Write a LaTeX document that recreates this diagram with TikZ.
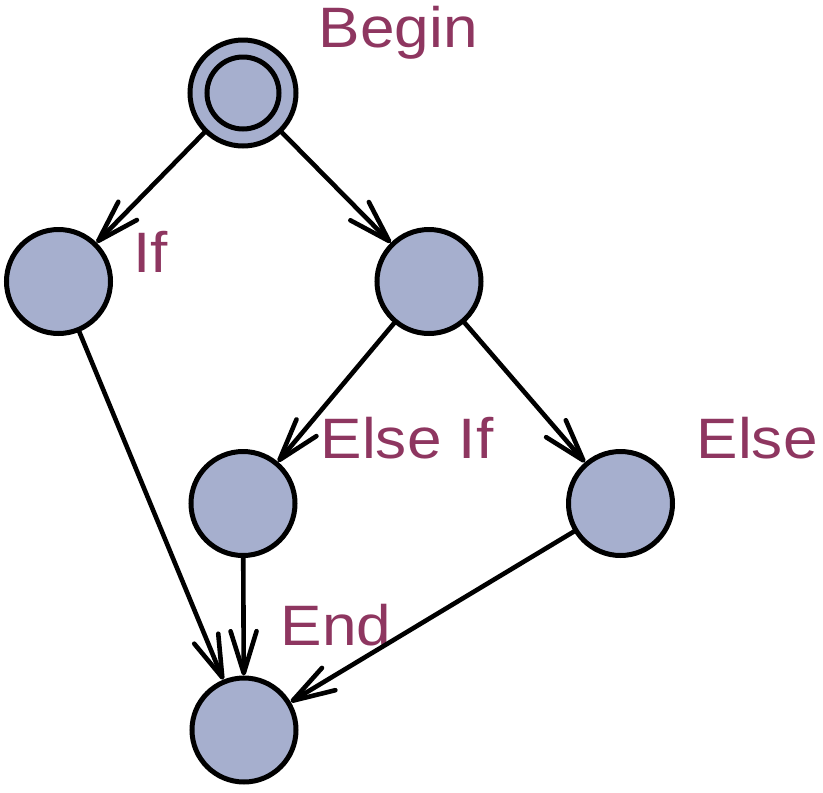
\documentclass[tikz,border=0pt]{standalone}
\usepackage{fontspec}
\usepackage{graphicx}
\setmainfont{Liberation Sans}
\usetikzlibrary{arrows.meta}
\definecolor{nodefill}{RGB}{166,175,206}
\definecolor{labelcol}{RGB}{142,54,96}
\newcommand{\widetext}[1]{\scalebox{1.09}[1]{#1}}
\begin{document}
\begin{tikzpicture}[x=1pt,y=-1pt,
  state/.style={circle,draw=black,line width=5pt,fill=nodefill,minimum size=104pt,inner sep=0pt},
  innerring/.style={circle,draw=black,line width=5pt,minimum size=72pt,inner sep=0pt},
  lbl/.style={text=labelcol,font=\fontsize{57}{60}\selectfont,anchor=base west,inner sep=0pt},
  arr/.style={line width=4.6pt,line cap=round,-{Straight Barb[length=42pt,width=26pt,round]}}]
\useasboundingbox (0,0) rectangle (823,793);
\node[state,minimum size=106pt] (begin) at (243,93) {};
\node[innerring] (begininner) at (243,93) {};
\node[state] (if) at (58.5,281.5) {};
\node[state] (thenn) at (429,281.5) {};
\node[state] (elseif) at (243,503.5) {};
\node[state] (else) at (620.5,503.5) {};
\node[state] (end) at (244,730) {};
\node[lbl] (lbegin) at (318.5,47) {\widetext{Begin}};
\node[lbl] (lif) at (133,272) {\widetext{If}};
\node[lbl] (lelseif) at (320.5,458) {\widetext{Else If}};
\node[lbl] (lelse) at (696.5,458) {\widetext{Else}};
\node[lbl] (lend) at (280.5,645) {\widetext{End}};
\draw[arr] (begin) -- (if);
\draw[arr] (begin) -- (thenn);
\draw[arr] (if) -- (end);
\draw[arr] (thenn) -- (elseif);
\draw[arr] (thenn) -- (else);
\draw[arr] (elseif) -- (end);
\draw[arr] (else) -- (end);
\end{tikzpicture}
\end{document}
